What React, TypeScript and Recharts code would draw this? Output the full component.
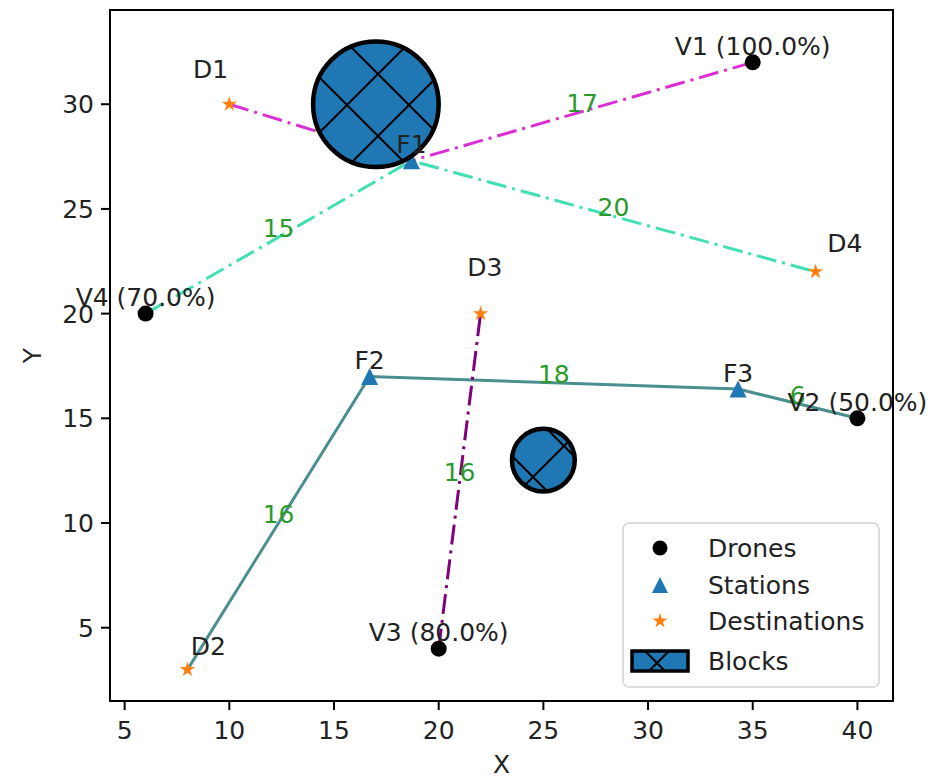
import React from "react";
import {
  ScatterChart,
  Scatter,
  XAxis,
  YAxis,
  Customized,
  useXAxisScale,
  useYAxisScale,
} from "recharts";

const X_DOMAIN: [number, number] = [4.3, 41.7];
const Y_DOMAIN: [number, number] = [1.5, 34.5];
const X_TICKS = [5, 10, 15, 20, 25, 30, 35, 40];
const Y_TICKS = [5, 10, 15, 20, 25, 30];

const DRONES = [
  { name: "V1", x: 35, y: 32, battery: 100 },
  { name: "V2", x: 40, y: 15, battery: 50 },
  { name: "V3", x: 20, y: 4, battery: 80 },
  { name: "V4", x: 6, y: 20, battery: 70 },
];

const STATIONS = [
  { name: "F1", x: 18.7, y: 27.3 },
  { name: "F2", x: 16.7, y: 17 },
  { name: "F3", x: 34.3, y: 16.4 },
];

const DESTINATIONS = [
  { name: "D1", x: 10, y: 30 },
  { name: "D2", x: 8, y: 3 },
  { name: "D3", x: 22, y: 20 },
  { name: "D4", x: 38, y: 22 },
];

// destination names sit a little away from their star (data units)
const DEST_LABEL_OFFSETS = [
  [-0.9, 1.7],
  [1.0, 1.15],
  [0.2, 2.25],
  [1.4, 1.35],
];

const BLOCKS = [
  { x: 17, y: 30, r: 3 },
  { x: 25, y: 13, r: 1.5 },
];

const ROUTES = [
  ["D1", "F1", "V1"],
  ["V4", "F1", "D4"],
  ["D2", "F2", "F3", "V2"],
  ["V3", "D3"],
];
const ROUTE_DISTANCES = [["9", "17"], ["15", "20"], ["16", "18", "6"], ["16"]];

const DASH_DOT = "20 6 3 6";
const ROUTE_STYLES = [
  { stroke: "#dc2fd3", dash: DASH_DOT },
  { stroke: "#3fe0b2", dash: DASH_DOT },
  { stroke: "#4a8e8e", dash: undefined as string | undefined },
  { stroke: "#800080", dash: DASH_DOT },
];

const FONT = "DejaVu Sans, sans-serif";
const FS = 25;
const INK = "#222";
const BLUE = "#1f77b4";
const ORANGE = "#ff7f0e";
const LABEL_GREEN = "#2a9a2a";

const NODES = [...DRONES, ...STATIONS, ...DESTINATIONS];
const node = (n: string) => NODES.find((d) => d.name === n)!;

// distance labels sit on the middle of each leg
const EDGE_LABELS = ROUTES.flatMap((route, i) =>
  route.slice(1).map((to, j) => {
    const a = node(route[j]);
    const b = node(to);
    return { x: (a.x + b.x) / 2, y: (a.y + b.y) / 2, text: ROUTE_DISTANCES[i][j] };
  })
);

const NAME_LABELS = [
  ...DRONES.map((d) => ({ x: d.x, y: d.y + 0.35, text: `${d.name} (${d.battery.toFixed(1)}%)`, mid: false })),
  ...STATIONS.map((d) => ({ x: d.x, y: d.y + 0.35, text: d.name, mid: false })),
  ...DESTINATIONS.map((d, i) => ({
    x: d.x + DEST_LABEL_OFFSETS[i][0],
    y: d.y + DEST_LABEL_OFFSETS[i][1],
    text: d.name,
    mid: true,
  })),
];

function starPath(cx: number, cy: number, R: number) {
  const pts: string[] = [];
  for (let i = 0; i < 10; i++) {
    const rad = i % 2 === 0 ? R : R * 0.382;
    const a = -Math.PI / 2 + (i * Math.PI) / 5;
    pts.push(`${cx + rad * Math.cos(a)},${cy + rad * Math.sin(a)}`);
  }
  return "M" + pts.join("L") + "Z";
}

const Dot = ({ cx, cy, r = 8 }: any) => <circle cx={cx} cy={cy} r={r} fill="#000" />;
const Tri = ({ cx, cy, h = 8.5 }: any) => (
  <path d={`M${cx},${cy - h}L${cx - h},${cy + h}L${cx + h},${cy + h}Z`} fill={BLUE} />
);
const Star = ({ cx, cy, R = 8 }: any) => <path d={starPath(cx, cy, R)} fill={ORANGE} />;
const Nothing = () => <g />;

const EdgeText = ({ cx, cy, payload }: any) => (
  <text x={cx} y={cy} textAnchor="middle" fontFamily={FONT} fontSize={FS} fill={LABEL_GREEN}>
    {payload.text}
  </text>
);

const NameText = ({ cx, cy, payload }: any) => (
  <text x={cx} y={cy} dy={payload.mid ? 9 : 0} textAnchor="middle" fontFamily={FONT} fontSize={FS} fill={INK}>
    {payload.text}
  </text>
);

const BlockShape = ({ cx, cy, payload }: any) => {
  const xs = useXAxisScale(0) as any;
  if (!xs) return null;
  const r = Math.abs(xs(payload.x + payload.r) - xs(payload.x));
  return (
    <g>
      <circle cx={cx} cy={cy} r={r} fill={BLUE} />
      <circle cx={cx} cy={cy} r={r} fill="url(#hatchX)" stroke="#000" strokeWidth={4.5} />
    </g>
  );
};

const XTick = (p: any) => (
  <text x={p.x} y={p.y} dy={27} textAnchor="middle" fontFamily={FONT} fontSize={FS} fill={INK}>
    {p.payload.value}
  </text>
);
const YTick = (p: any) => (
  <text x={p.x} y={p.y} dx={-5} dy={9} textAnchor="end" fontFamily={FONT} fontSize={FS} fill={INK}>
    {p.payload.value}
  </text>
);

const FrameAndLegend = () => {
  const xs = useXAxisScale(0) as any;
  const ys = useYAxisScale(0) as any;
  if (!xs || !ys) return null;
  const left = xs(X_DOMAIN[0]);
  const right = xs(X_DOMAIN[1]);
  const top = ys(Y_DOMAIN[1]);
  const bottom = ys(Y_DOMAIN[0]);

  const lw = 256;
  const lh = 164;
  const lx = right - 14 - lw;
  const ly = bottom - 14 - lh;
  const mx = lx + 37;
  const tx = lx + 85;
  const rows = [ly + 25, ly + 62, ly + 98, ly + 138];
  const names = ["Drones", "Stations", "Destinations", "Blocks"];

  return (
    <g>
      <defs>
        <pattern id="hatchX" patternUnits="userSpaceOnUse" x={347} y={105} width={62} height={62}>
          <path d="M-2,-2L64,64M64,-2L-2,64" stroke="#000" strokeWidth={2} />
        </pattern>
      </defs>
      <rect x={left} y={top} width={right - left} height={bottom - top} fill="none" stroke="#000" strokeWidth={2} />
      <rect x={lx} y={ly} width={lw} height={lh} rx={6} fill="#fff" fillOpacity={0.85} stroke="#d4d4d4" strokeWidth={1.5} />
      <Dot cx={mx} cy={rows[0]} r={7.5} />
      <Tri cx={mx} cy={rows[1]} h={8} />
      <Star cx={mx} cy={rows[2]} R={8} />
      <rect x={mx - 28} y={rows[3] - 10} width={56} height={20} fill={BLUE} />
      <rect x={mx - 28} y={rows[3] - 10} width={56} height={20} fill="url(#hatchX)" stroke="#000" strokeWidth={3.5} />
      {names.map((n, i) => (
        <text key={n} x={tx} y={rows[i]} dy={9} fontFamily={FONT} fontSize={FS} fill={INK}>
          {n}
        </text>
      ))}
      <text x={(left + right) / 2} y={bottom + 72} textAnchor="middle" fontFamily={FONT} fontSize={FS} fill={INK}>
        X
      </text>
      <text
        x={0}
        y={0}
        transform={`translate(${left - 69},${(top + bottom) / 2}) rotate(-90)`}
        textAnchor="middle"
        fontFamily={FONT}
        fontSize={FS}
        fill={INK}
      >
        Y
      </text>
    </g>
  );
};

export default function App() {
  return (
    <div style={{ position: "absolute", left: 0, top: 0, width: 928, height: 777, background: "#fff" }}>
      <ScatterChart width={928} height={777} margin={{ top: 10, right: 35, bottom: 0, left: 0 }}>
        <XAxis
          type="number"
          dataKey="x"
          domain={X_DOMAIN}
          ticks={X_TICKS}
          height={76}
          axisLine={false}
          tickSize={9}
          tickLine={{ stroke: "#000", strokeWidth: 2 }}
          tick={<XTick />}
        />
        <YAxis
          type="number"
          dataKey="y"
          domain={Y_DOMAIN}
          ticks={Y_TICKS}
          width={110}
          axisLine={false}
          tickSize={9}
          tickLine={{ stroke: "#000", strokeWidth: 2 }}
          tick={<YTick />}
        />
        <Customized component={FrameAndLegend} />
        {ROUTES.map((route, i) => (
          <Scatter
            key={`route-${i}`}
            data={route.map(node)}
            line={{
              stroke: ROUTE_STYLES[i].stroke,
              strokeWidth: 3,
              strokeDasharray: ROUTE_STYLES[i].dash,
            }}
            lineJointType="linear"
            shape={<Nothing />}
            isAnimationActive={false}
          />
        ))}
        <Scatter data={EDGE_LABELS} shape={<EdgeText />} isAnimationActive={false} />
        <Scatter name="Drones" data={DRONES} shape={<Dot />} isAnimationActive={false} />
        <Scatter name="Stations" data={STATIONS} shape={<Tri />} isAnimationActive={false} />
        <Scatter name="Destinations" data={DESTINATIONS} shape={<Star />} isAnimationActive={false} />
        <Scatter name="Blocks" data={BLOCKS} shape={<BlockShape />} isAnimationActive={false} />
        <Scatter data={NAME_LABELS} shape={<NameText />} isAnimationActive={false} />
      </ScatterChart>
    </div>
  );
}
